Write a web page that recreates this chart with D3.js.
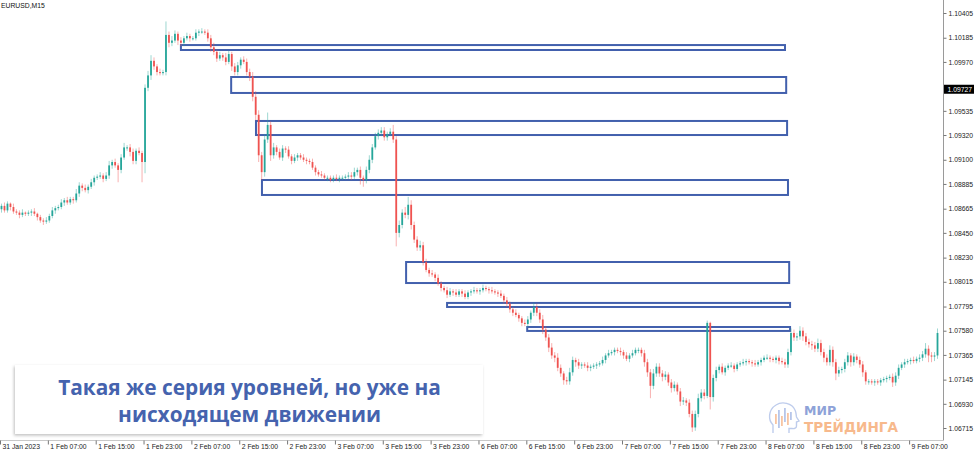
<!DOCTYPE html>
<html>
<head>
<meta charset="utf-8">
<script src="https://cdn.jsdelivr.net/npm/d3@7"></script>
<style>
  body { margin: 0; background: #fff; }
  svg { display: block; }
</style>
</head>
<body>
<div id="chart"></div>
<script>
// EURUSD M15, drawn as 30 minute candles (open = previous close)
var symbol = "EURUSD,M15";
var firstOpen = 1.0866;

var closes = [
  1.0869, 1.0865, 1.0871, 1.0868, 1.0864, 1.0863, 1.0861, 1.0863, 1.0862, 1.0863,
  1.0864, 1.0862, 1.0859, 1.0856, 1.0855, 1.0856, 1.0860, 1.0865, 1.0867, 1.0868,
  1.0872, 1.0874, 1.0872, 1.0875, 1.0874, 1.0880, 1.0887, 1.0885, 1.0883, 1.0886,
  1.0890, 1.0894, 1.0895, 1.0896, 1.0893, 1.0896, 1.0905, 1.0908, 1.0905, 1.0901,
  1.0912, 1.0921, 1.0921, 1.0917, 1.0909, 1.0918, 1.0916, 1.0908, 1.0974, 1.0985,
  1.0998, 1.0993, 1.0988, 1.0987, 1.0988, 1.1021, 1.1014, 1.1016, 1.1022, 1.1016,
  1.1014, 1.1018, 1.1020, 1.1018, 1.1018, 1.1023, 1.1024, 1.1024, 1.1023, 1.1018,
  1.1010, 1.1006, 1.1000, 1.1003, 1.1001, 1.0997, 1.1004, 1.0993, 1.0988, 1.0994,
  1.0999, 1.0997, 1.0988, 1.0984, 1.0966, 1.0950, 1.0914, 1.0899, 1.0928, 1.0941,
  1.0914, 1.0921, 1.0917, 1.0912, 1.0920, 1.0919, 1.0913, 1.0909, 1.0912, 1.0914,
  1.0912, 1.0910, 1.0909, 1.0908, 1.0903, 1.0899, 1.0897, 1.0896, 1.0894, 1.0894,
  1.0892, 1.0894, 1.0893, 1.0894, 1.0894, 1.0895, 1.0896, 1.0895, 1.0899, 1.0901,
  1.0894, 1.0892, 1.0901, 1.0910, 1.0921, 1.0931, 1.0934, 1.0936, 1.0930, 1.0933,
  1.0935, 1.0928, 1.0845, 1.0852, 1.0863, 1.0861, 1.0870, 1.0852, 1.0839, 1.0832,
  1.0834, 1.0819, 1.0812, 1.0809, 1.0808, 1.0805, 1.0800, 1.0796, 1.0794, 1.0790,
  1.0793, 1.0792, 1.0790, 1.0793, 1.0791, 1.0788, 1.0792, 1.0793, 1.0794, 1.0793,
  1.0794, 1.0796, 1.0795, 1.0794, 1.0793, 1.0792, 1.0791, 1.0789, 1.0785, 1.0782,
  1.0777, 1.0774, 1.0772, 1.0769, 1.0765, 1.0764, 1.0768, 1.0774, 1.0779, 1.0774,
  1.0768, 1.0759, 1.0752, 1.0743, 1.0736, 1.0734, 1.0725, 1.0720, 1.0714, 1.0713,
  1.0721, 1.0732, 1.0730, 1.0727, 1.0728, 1.0727, 1.0725, 1.0726, 1.0727, 1.0728,
  1.0729, 1.0732, 1.0736, 1.0738, 1.0739, 1.0741, 1.0740, 1.0739, 1.0736, 1.0733,
  1.0736, 1.0738, 1.0741, 1.0741, 1.0738, 1.0730, 1.0721, 1.0709, 1.0720, 1.0726,
  1.0720, 1.0717, 1.0719, 1.0712, 1.0707, 1.0710, 1.0704, 1.0695, 1.0696, 1.0694,
  1.0684, 1.0672, 1.0684, 1.0698, 1.0703, 1.0700, 1.0765, 1.0699, 1.0716, 1.0723,
  1.0726, 1.0721, 1.0725, 1.0727, 1.0727, 1.0724, 1.0728, 1.0729, 1.0730, 1.0731,
  1.0730, 1.0729, 1.0728, 1.0730, 1.0732, 1.0734, 1.0734, 1.0733, 1.0732, 1.0734,
  1.0731, 1.0730, 1.0728, 1.0739, 1.0756, 1.0752, 1.0753, 1.0758, 1.0753, 1.0748,
  1.0746, 1.0745, 1.0742, 1.0747, 1.0739, 1.0734, 1.0730, 1.0741, 1.0730, 1.0720,
  1.0723, 1.0724, 1.0730, 1.0736, 1.0730, 1.0735, 1.0732, 1.0728, 1.0721, 1.0713,
  1.0713, 1.0712, 1.0713, 1.0712, 1.0714, 1.0715, 1.0716, 1.0717, 1.0712, 1.0718,
  1.0725, 1.0728, 1.0730, 1.0731, 1.0732, 1.0731, 1.0733, 1.0734, 1.0737, 1.0742,
  1.0736, 1.0735, 1.0736, 1.0756
];

// wick lengths above / below the body, in pips
var wickUp = [
  2,3,2,1,3,2,2,3,1,2,2,3,1,2,2,3,2,3,2,2,
  3,2,3,2,2,4,3,2,3,2,3,2,2,3,2,3,4,2,3,2,
  3,4,2,3,3,2,3,2,3,4,5,3,2,3,2,12,3,4,3,2,
  3,2,3,2,2,3,2,3,2,3,3,4,2,3,2,4,3,2,3,3,
  2,3,3,3,4,5,4,3,5,11,3,4,2,3,3,2,3,2,3,2,
  2,3,2,2,3,2,2,3,2,2,2,2,3,2,2,2,3,3,4,2,
  3,2,3,4,3,3,3,3,3,2,3,6,3,4,3,5,7,4,3,3,
  4,3,3,2,3,2,3,2,2,3,3,2,3,2,2,3,2,2,3,2,
  2,3,2,2,3,2,2,3,2,3,2,2,3,2,2,3,3,2,4,3,
  3,4,3,3,4,3,4,3,2,3,4,3,2,3,2,2,3,2,2,2,
  2,3,2,3,2,2,2,3,2,3,2,3,2,2,2,3,3,3,4,3,
  3,3,3,2,3,3,2,3,3,2,3,3,3,4,3,3,2,1,3,3,
  2,3,2,2,3,2,2,2,3,2,2,2,3,2,2,2,3,2,2,2,
  2,3,3,3,4,3,3,4,3,3,3,3,3,4,3,3,3,4,3,3,
  3,2,3,3,2,3,2,3,3,2,2,2,2,2,2,2,2,2,3,3,
  3,2,3,2,2,3,2,3,3,5,3,3,3,4
];
var wickDn = [
  3,2,2,3,2,2,3,2,2,2,3,2,3,2,3,2,2,2,3,2,
  2,3,2,2,3,2,3,3,2,3,2,3,2,2,3,2,3,3,2,11,
  3,2,3,4,3,3,2,18,10,3,4,3,3,2,2,3,4,3,2,4,
  3,3,2,3,2,2,3,2,2,3,4,3,3,2,3,3,2,4,3,3,
  3,2,3,4,4,5,6,7,4,3,5,3,3,2,3,3,2,3,2,3,
  2,2,3,2,2,3,2,2,2,3,2,2,2,3,2,2,2,3,2,3,
  6,6,3,3,3,2,3,3,3,3,2,3,12,4,3,3,4,4,3,3,
  3,3,2,3,2,3,2,3,2,3,2,3,2,2,3,2,2,3,2,2,
  3,2,2,3,2,2,3,2,3,3,3,3,2,3,3,2,3,3,3,3,
  3,4,3,4,3,4,3,3,4,3,3,3,4,3,3,2,3,3,2,3,
  2,2,3,2,2,3,2,3,3,2,3,2,2,3,3,4,4,11,3,3,
  3,4,3,3,4,3,3,4,3,3,3,4,3,3,3,3,2,11,4,3,
  3,2,3,2,2,3,2,2,2,3,2,3,2,2,3,2,2,3,2,3,
  3,2,3,3,3,3,3,3,4,3,3,4,3,3,3,4,3,3,4,6,
  3,3,3,3,4,3,3,3,4,3,3,2,3,2,3,2,3,2,4,3,
  3,2,3,2,3,2,2,3,3,3,6,5,4,3
];

var priceTicks = [1.10405, 1.10185, 1.09970, 1.09535, 1.09320, 1.09100, 1.08885, 1.08665,
  1.08450, 1.08230, 1.08015, 1.07795, 1.07580, 1.07365, 1.07145, 1.06930, 1.06715];
var currentPrice = 1.09727;

// one label every 16 candles (8 hours)
var timeLabels = ["31 Jan 2023", "1 Feb 07:00", "1 Feb 15:00", "1 Feb 23:00", "2 Feb 07:00",
  "2 Feb 15:00", "2 Feb 23:00", "3 Feb 07:00", "3 Feb 15:00", "3 Feb 23:00", "6 Feb 07:00",
  "6 Feb 15:00", "6 Feb 23:00", "7 Feb 07:00", "7 Feb 15:00", "7 Feb 23:00", "8 Feb 07:00",
  "8 Feb 15:00", "8 Feb 23:00", "9 Feb 07:00"];

// level rectangles: from / to candle index, top / bottom price
var levelFrom = [60.5, 77.3, 85.6, 87.6, 135.8, 149.5, 176.3];
var levelTo = [262.5, 262.9, 263.2, 263.5, 263.9, 264.2, 264.2];
var levelTop = [1.10120, 1.09836, 1.09445, 1.08920, 1.08191, 1.07827, 1.07613];
var levelBottom = [1.10076, 1.09694, 1.09320, 1.08787, 1.08004, 1.07791, 1.07578];

var caption = ["Такая же серия уровней, но уже на", "нисходящем движении"];
var logoText = ["МИР", "ТРЕЙДИНГА"];

var W = 974, H = 450;
var axisX = 943.5, axisY = 440.5;
var bull = "#26a69a", bear = "#ef5350", levelCol = "#4260ad";

var svg = d3.select("#chart").append("svg")
  .attr("width", W)
  .attr("height", H)
  .style("font-family", "'Liberation Sans', Arial, sans-serif");

var x = d3.scaleLinear().domain([0, closes.length]).range([0, 939]);
var y = d3.scaleLinear().domain([1.06715, 1.10405]).range([428, 13]);

var candles = closes.map(function(c, i) {
  var o = i == 0 ? firstOpen : closes[i - 1];
  return {
    i: i, o: o, c: c,
    h: Math.max(o, c) + wickUp[i] * 0.0001,
    l: Math.min(o, c) - wickDn[i] * 0.0001
  };
});

// frame
svg.append("line").attr("x1", axisX).attr("x2", axisX).attr("y1", 0).attr("y2", axisY)
  .attr("stroke", "#9a9a9a");
svg.append("line").attr("x1", 0).attr("x2", axisX).attr("y1", axisY).attr("y2", axisY)
  .attr("stroke", "#c8c8c8");

// level boxes
var levels = levelTop.map(function(t, k) {
  return { from: levelFrom[k], to: levelTo[k], top: t, bottom: levelBottom[k] };
});
svg.append("g").selectAll("rect").data(levels).enter().append("rect")
  .attr("x", function(d) { return x(d.from); })
  .attr("y", function(d) { return y(d.top); })
  .attr("width", function(d) { return x(d.to) - x(d.from); })
  .attr("height", function(d) { return y(d.bottom) - y(d.top); })
  .attr("fill", "none")
  .attr("stroke", levelCol)
  .attr("stroke-width", 2);

// candles
var cg = svg.append("g");
cg.selectAll("line").data(candles).enter().append("line")
  .attr("x1", function(d) { return x(d.i + 0.5); })
  .attr("x2", function(d) { return x(d.i + 0.5); })
  .attr("y1", function(d) { return y(d.h); })
  .attr("y2", function(d) { return y(d.l); })
  .attr("stroke", function(d) { return d.c >= d.o ? bull : bear; })
  .attr("stroke-opacity", 0.45)
  .attr("stroke-width", 1);
cg.selectAll("rect").data(candles).enter().append("rect")
  .attr("x", function(d) { return x(d.i + 0.5) - 0.9; })
  .attr("width", 1.8)
  .attr("y", function(d) { return y(Math.max(d.o, d.c)); })
  .attr("height", function(d) { return Math.max(1, y(Math.min(d.o, d.c)) - y(Math.max(d.o, d.c))); })
  .attr("fill", function(d) { return d.c >= d.o ? bull : bear; });

// price axis
var yAxis = svg.append("g")
  .attr("transform", "translate(" + axisX + ",0)")
  .call(d3.axisRight(y).tickValues(priceTicks).tickFormat(d3.format(".5f")).tickSize(3).tickPadding(2));
yAxis.select(".domain").remove();
yAxis.selectAll("line").attr("stroke", "#777");
yAxis.selectAll("text").attr("font-size", "6.8px").attr("fill", "#222")
  .attr("font-family", "'Liberation Sans', Arial, sans-serif");

// current price marker
var cp = svg.append("g").attr("transform", "translate(" + axisX + "," + y(currentPrice) + ")");
cp.append("rect").attr("x", 0.5).attr("y", -4.5).attr("width", 30).attr("height", 9).attr("fill", "#000");
cp.append("text").attr("x", 4).attr("y", 2.4).attr("fill", "#fff").attr("font-size", "6.8px")
  .text(d3.format(".5f")(currentPrice));

// time axis
var xAxis = svg.append("g")
  .attr("transform", "translate(0," + axisY + ")")
  .call(d3.axisBottom(x)
    .tickValues(timeLabels.map(function(d, k) { return k * 16; }))
    .tickFormat(function(d, k) { return timeLabels[k]; })
    .tickSize(4));
xAxis.select(".domain").remove();
xAxis.selectAll("line").attr("stroke", "#777");
xAxis.selectAll("text")
  .attr("text-anchor", "start")
  .attr("x", 2)
  .attr("y", 3.5)
  .attr("font-size", "6.8px")
  .attr("fill", "#222")
  .attr("font-family", "'Liberation Sans', Arial, sans-serif");

// symbol
svg.append("text").attr("x", 1).attr("y", 8).attr("font-size", "6.8px").attr("fill", "#111")
  .text(symbol);

// caption box
var defs = svg.append("defs");
var f = defs.append("filter").attr("id", "sh").attr("x", "-5%").attr("y", "-20%")
  .attr("width", "110%").attr("height", "150%");
f.append("feDropShadow").attr("dx", -1).attr("dy", 1.5).attr("stdDeviation", 1.5)
  .attr("flood-color", "#000").attr("flood-opacity", 0.25);

var box = svg.append("g");
box.append("rect").attr("x", 15).attr("y", 365).attr("width", 468).attr("height", 69)
  .attr("fill", "#fff").attr("filter", "url(#sh)");
var capFont = 21;
var capLines = box.selectAll("text.cap").data(caption).enter().append("text")
  .attr("class", "cap")
  .attr("x", 249.5)
  .attr("y", function(d, k) { return k == 0 ? 395 : 422; })
  .attr("text-anchor", "middle")
  .attr("font-family", "'Open Sans', sans-serif")
  .attr("font-weight", 700)
  .attr("font-size", capFont + "px")
  .attr("fill", "#4563ae")
  .text(function(d) { return d; });
var len = capLines.node().getComputedTextLength();
capLines.attr("font-size", (capFont * 383 / len) + "px");

// watermark logo
var logo = svg.append("g").attr("transform", "translate(768,402)").attr("opacity", 0.75);
logo.append("path")
  .attr("d", "M5,31 L5,23 C0,18 0,8 8,3 C14,-1 24,1 27,8 C28.5,11 28,13 28.5,15 L31,19 L28.5,20 L28.5,24 C28.5,26 26.5,27 24,26.5 L21,26.5 L21,31")
  .attr("fill", "none").attr("stroke", "#a9bce6").attr("stroke-width", 1.4);
var bars = [[7, 12, 22, "#f5b183"], [10, 8, 26, "#9fb3e3"], [13, 14, 24, "#f5b183"], [16, 6, 20, "#9fb3e3"], [19, 11, 23, "#f5b183"], [22, 10, 18, "#9fb3e3"]];
logo.selectAll("rect").data(bars).enter().append("rect")
  .attr("x", function(d) { return d[0]; }).attr("y", function(d) { return d[1]; })
  .attr("width", 1.8).attr("height", function(d) { return d[2] - d[1]; })
  .attr("fill", function(d) { return d[3]; });
svg.append("text").attr("x", 804).attr("y", 415).attr("font-family", "'DejaVu Sans', sans-serif")
  .attr("font-weight", 700).attr("font-size", "12.5px").attr("fill", "#8ea2d8").text(logoText[0]);
var lt = svg.append("text").attr("x", 804).attr("y", 432).attr("font-family", "'DejaVu Sans', sans-serif")
  .attr("font-weight", 700).attr("font-size", "12.5px").attr("fill", "#f7b98c").text(logoText[1]);
lt.attr("font-size", (12.5 * 94 / lt.node().getComputedTextLength()) + "px");
</script>
</body>
</html>
